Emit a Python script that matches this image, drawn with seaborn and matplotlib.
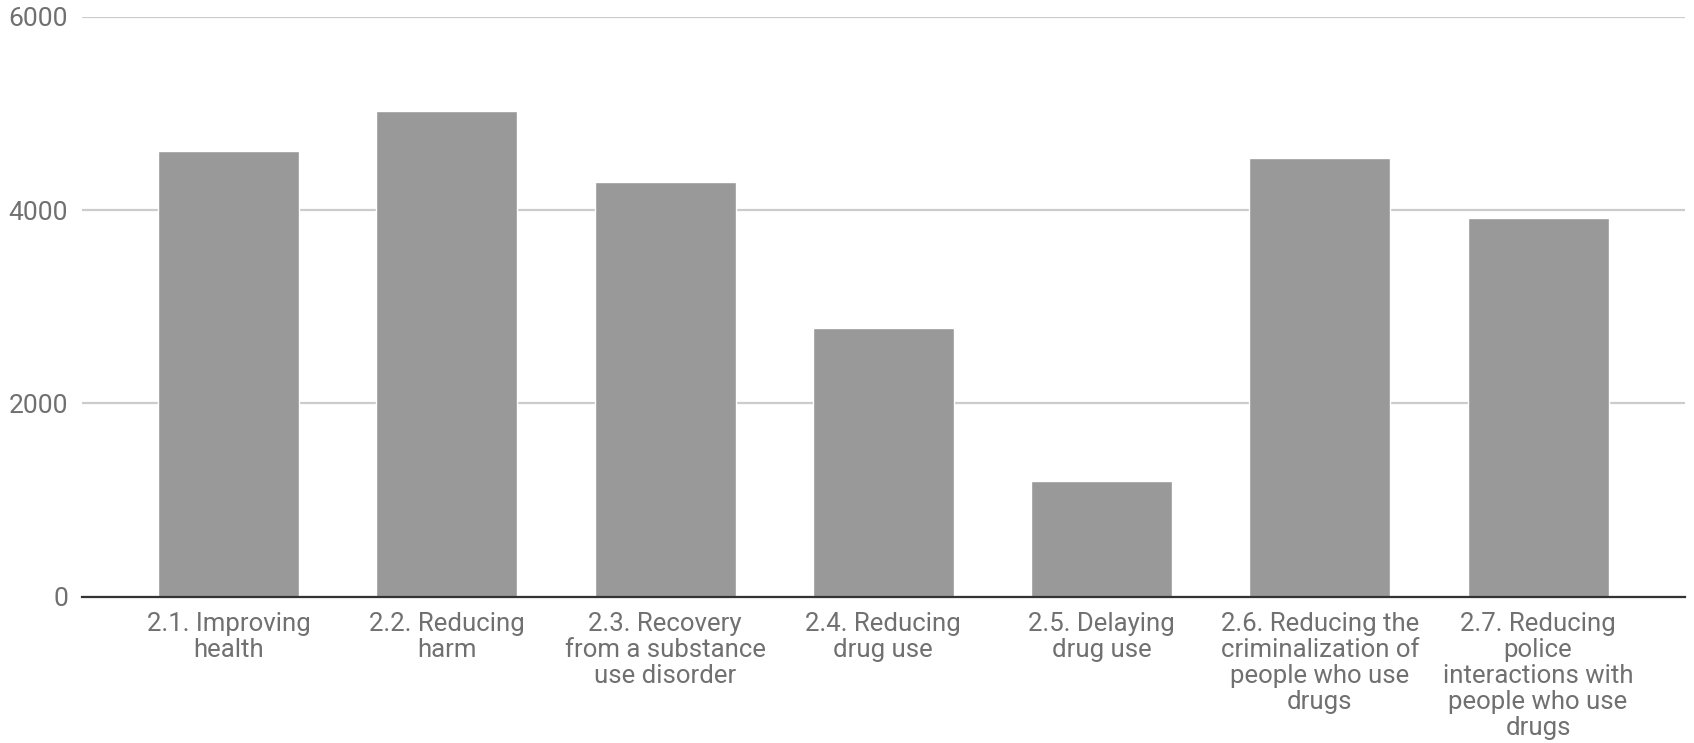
import matplotlib
matplotlib.use("Agg")
import matplotlib.pyplot as plt
import seaborn as sns
import pandas as pd

categories = [
    "2.1. Improving\nhealth",
    "2.2. Reducing\nharm",
    "2.3. Recovery\nfrom a substance\nuse disorder",
    "2.4. Reducing\ndrug use",
    "2.5. Delaying\ndrug use",
    "2.6. Reducing the\ncriminalization of\npeople who use\ndrugs",
    "2.7. Reducing\npolice\ninteractions with\npeople who use\ndrugs",
]
values = [4610, 5020, 4290, 2775, 1195, 4540, 3920]
y_ticks = [0, 2000, 4000, 6000]

df = pd.DataFrame({"category": categories, "value": values})

sns.set_theme(style="white")
plt.rcParams["font.family"] = ["Roboto", "DejaVu Sans"]

fig = plt.figure(figsize=(16.94, 7.43), dpi=100)
ax = fig.add_axes([0.0484, 0.1969, 0.9463, 0.7806])

sns.barplot(data=df, x="category", y="value", color="#999999",
            saturation=1, width=0.646, ax=ax, zorder=2)

ax.set_ylim(0, 6000)
ax.set_xlim(-0.671, 6.673)
ax.set_yticks(y_ticks)
ax.set_yticklabels([str(t) for t in y_ticks])
ax.yaxis.grid(True, color="#cccccc", linewidth=1.6, zorder=0)
ax.set_axisbelow(True)

for side in ["top", "right", "left"]:
    ax.spines[side].set_visible(False)
ax.spines["bottom"].set_color("#333333")
ax.spines["bottom"].set_linewidth(1.6)
ax.spines["bottom"].set_zorder(3)

ax.tick_params(axis="y", length=0, pad=10, labelsize=19, labelcolor="#707070")
ax.tick_params(axis="x", length=0, pad=11, labelsize=18.5, labelcolor="#707070")
for lbl in ax.get_xticklabels():
    lbl.set_linespacing(1.1)
    lbl.set_ha("center")

ax.set_xlabel("")
ax.set_ylabel("")

fig.savefig("out.png", dpi=100)
